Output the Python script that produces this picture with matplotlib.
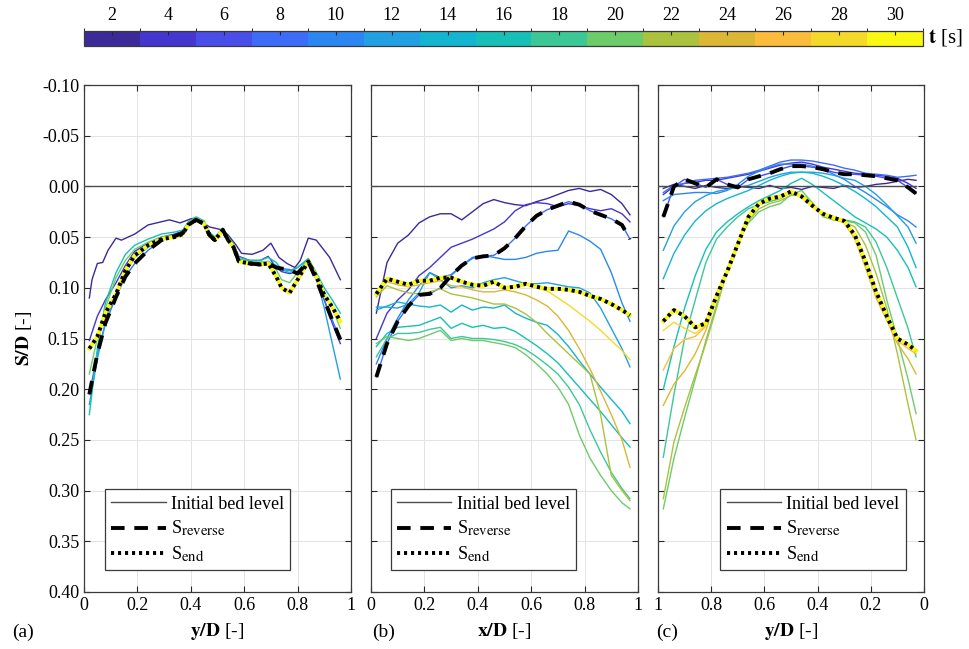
import numpy as np
import matplotlib
matplotlib.use('Agg')
import matplotlib.pyplot as plt
from matplotlib.colors import ListedColormap, BoundaryNorm
from matplotlib.cm import ScalarMappable
from matplotlib.ticker import FuncFormatter, MultipleLocator

try:
    import matplotlib._mathtext as _mt
    _mt.SHRINK_FACTOR = 0.82  # larger subscripts, closer to the original legend
except Exception:
    pass

plt.rcParams['font.family'] = 'serif'
plt.rcParams['font.serif'] = ['Liberation Serif', 'DejaVu Serif']
plt.rcParams['mathtext.fontset'] = 'stix'
plt.rcParams['font.size'] = 13

# discrete parula-like colour steps, one per 2 s
t_colors = ['#3b2a98', '#4536cf', '#4a4ee9', '#3d6df8', '#2b86f2', '#23a0e1', '#13b5d0', '#16c0b7',
            '#3cc896', '#6ecb6a', '#aac23d', '#dcb635', '#fbbc3c', '#f5d92a', '#f9f813']
t_bounds = np.arange(1, 32, 2)
t_ticks = np.arange(2, 31, 2)

# ---------------- panel (a): y/D ----------------
xa = [0.02, 0.05, 0.08, 0.12, 0.155, 0.19, 0.24, 0.29, 0.34, 0.37, 0.39, 0.42, 0.45, 0.47, 0.49, 0.52,
      0.54, 0.56, 0.58, 0.62, 0.66, 0.69, 0.72, 0.74, 0.77, 0.80, 0.84, 0.87, 0.90, 0.93, 0.96]
a_t2_x = [0.02, 0.03, 0.05, 0.07, 0.09, 0.12, 0.14, 0.19, 0.24, 0.32, 0.36, 0.40, 0.42, 0.47, 0.52, 0.54,
          0.57, 0.59, 0.63, 0.67, 0.70, 0.73, 0.76, 0.79, 0.81, 0.84, 0.87, 0.92, 0.96]
a_t2 = [0.110, 0.092, 0.076, 0.075, 0.063, 0.051, 0.053, 0.047, 0.038, 0.033, 0.036, 0.032, 0.031, 0.040,
        0.043, 0.048, 0.058, 0.066, 0.067, 0.063, 0.056, 0.070, 0.076, 0.080, 0.073, 0.051, 0.053, 0.070, 0.092]
a_t4 = [0.152, 0.128, 0.112, 0.095, 0.078, 0.064, 0.056, 0.050, 0.047, 0.044, 0.036, 0.032, 0.038, 0.050,
        0.052, 0.043, 0.050, 0.058, 0.069, 0.073, 0.073, 0.069, 0.080, 0.084, 0.086, 0.084, 0.073, 0.088, 0.112,
        0.135, 0.155]
a_t12 = [0.215, 0.170, 0.135, 0.105, 0.085, 0.070, 0.060, 0.053, 0.050, 0.046, 0.037, 0.032, 0.036, 0.047,
         0.052, 0.042, 0.052, 0.058, 0.072, 0.074, 0.075, 0.074, 0.078, 0.082, 0.083, 0.080, 0.072, 0.090,
         0.120, 0.155, 0.190]
a_t16 = [0.225, 0.160, 0.115, 0.085, 0.067, 0.058, 0.052, 0.047, 0.045, 0.043, 0.035, 0.030, 0.034, 0.045,
         0.050, 0.041, 0.050, 0.057, 0.070, 0.073, 0.073, 0.070, 0.075, 0.082, 0.085, 0.080, 0.071, 0.085,
         0.100, 0.112, 0.125]
a_t20 = [0.185, 0.150, 0.120, 0.090, 0.073, 0.062, 0.055, 0.050, 0.048, 0.045, 0.036, 0.031, 0.035, 0.046,
         0.051, 0.042, 0.051, 0.058, 0.072, 0.075, 0.075, 0.074, 0.082, 0.092, 0.095, 0.085, 0.072, 0.087,
         0.104, 0.120, 0.140]
a_rev = [0.205, 0.165, 0.135, 0.109, 0.089, 0.076, 0.063, 0.053, 0.049, 0.046, 0.038, 0.033, 0.037, 0.048,
         0.053, 0.043, 0.053, 0.060, 0.074, 0.076, 0.077, 0.076, 0.080, 0.081, 0.082, 0.086, 0.074, 0.092,
         0.112, 0.132, 0.151]
a_end = [0.160, 0.148, 0.125, 0.106, 0.083, 0.068, 0.058, 0.052, 0.050, 0.047, 0.038, 0.033, 0.037, 0.048,
         0.053, 0.043, 0.053, 0.060, 0.074, 0.076, 0.077, 0.076, 0.089, 0.100, 0.105, 0.092, 0.074, 0.089,
         0.107, 0.119, 0.133]

# ---------------- panel (b): x/D ----------------
xb = [0.02, 0.06, 0.10, 0.14, 0.18, 0.22, 0.26, 0.30, 0.34, 0.38, 0.42, 0.46, 0.50, 0.54, 0.58, 0.62,
      0.66, 0.70, 0.74, 0.78, 0.82, 0.86, 0.90, 0.94, 0.97]
b_t2 = [0.125, 0.075, 0.056, 0.048, 0.036, 0.030, 0.027, 0.027, 0.033, 0.025, 0.017, 0.013, 0.016, 0.018,
        0.019, 0.015, 0.012, 0.008, 0.004, 0.002, 0.005, 0.003, 0.008, 0.017, 0.028]
b_t4 = [0.150, 0.125, 0.112, 0.102, 0.088, 0.080, 0.070, 0.060, 0.056, 0.052, 0.047, 0.042, 0.035, 0.024,
        0.018, 0.016, 0.017, 0.020, 0.017, 0.019, 0.022, 0.024, 0.022, 0.027, 0.035]
b_t10 = [0.175, 0.150, 0.130, 0.112, 0.098, 0.085, 0.090, 0.087, 0.078, 0.070, 0.068, 0.070, 0.072, 0.072,
         0.070, 0.066, 0.064, 0.063, 0.044, 0.048, 0.054, 0.062, 0.085, 0.115, 0.133]
b_t12 = [0.119, 0.119, 0.120, 0.116, 0.105, 0.085, 0.092, 0.100, 0.098, 0.100, 0.095, 0.092, 0.090, 0.093,
         0.096, 0.096, 0.095, 0.097, 0.099, 0.100, 0.105, 0.120, 0.140, 0.160, 0.178]
b_t14 = [0.122, 0.118, 0.114, 0.116, 0.118, 0.119, 0.117, 0.124, 0.117, 0.122, 0.119, 0.120, 0.117, 0.125,
         0.130, 0.134, 0.137, 0.146, 0.158, 0.172, 0.185, 0.198, 0.210, 0.222, 0.234]
b_t16 = [0.158, 0.145, 0.139, 0.138, 0.137, 0.133, 0.129, 0.140, 0.135, 0.139, 0.137, 0.140, 0.139, 0.143,
         0.150, 0.157, 0.165, 0.174, 0.186, 0.198, 0.210, 0.222, 0.235, 0.248, 0.257]
b_t18 = [0.168, 0.150, 0.145, 0.145, 0.144, 0.141, 0.139, 0.150, 0.148, 0.150, 0.150, 0.151, 0.153, 0.156,
         0.161, 0.168, 0.176, 0.185, 0.198, 0.215, 0.240, 0.262, 0.282, 0.298, 0.308]
b_t20 = [0.155, 0.148, 0.150, 0.152, 0.150, 0.146, 0.142, 0.152, 0.150, 0.152, 0.152, 0.154, 0.156, 0.159,
         0.166, 0.175, 0.185, 0.198, 0.215, 0.245, 0.268, 0.285, 0.300, 0.312, 0.318]
b_t22 = [0.109, 0.098, 0.102, 0.105, 0.106, 0.104, 0.101, 0.106, 0.108, 0.110, 0.113, 0.116, 0.116, 0.120,
         0.126, 0.134, 0.145, 0.155, 0.165, 0.175, 0.185, 0.225, 0.285, 0.300, 0.310]
b_t24 = [0.107, 0.094, 0.097, 0.099, 0.097, 0.095, 0.093, 0.098, 0.099, 0.102, 0.104, 0.104, 0.102, 0.104,
         0.107, 0.112, 0.118, 0.128, 0.142, 0.160, 0.180, 0.202, 0.225, 0.250, 0.277]
b_t28 = [0.106, 0.092, 0.095, 0.098, 0.094, 0.094, 0.091, 0.091, 0.095, 0.098, 0.099, 0.095, 0.101, 0.100,
         0.097, 0.100, 0.103, 0.110, 0.117, 0.125, 0.133, 0.142, 0.152, 0.162, 0.171]
b_rev = [0.188, 0.155, 0.133, 0.118, 0.107, 0.106, 0.100, 0.088, 0.078, 0.071, 0.069, 0.068, 0.061, 0.051,
         0.039, 0.029, 0.023, 0.019, 0.015, 0.018, 0.024, 0.028, 0.032, 0.038, 0.052]
b_end = [0.106, 0.091, 0.094, 0.097, 0.093, 0.093, 0.090, 0.090, 0.094, 0.097, 0.098, 0.094, 0.100, 0.099,
         0.096, 0.099, 0.101, 0.101, 0.102, 0.104, 0.108, 0.111, 0.116, 0.122, 0.127]

# ---------------- panel (c): y/D (reversed) ----------------
xc = [0.98, 0.94, 0.90, 0.86, 0.82, 0.78, 0.74, 0.70, 0.66, 0.62, 0.58, 0.54, 0.50, 0.46, 0.42, 0.38,
      0.34, 0.30, 0.26, 0.22, 0.18, 0.14, 0.10, 0.06, 0.03]
c_t2 = [0.002, -0.002, 0.000, 0.002, -0.001, 0.001, 0.002, 0.000, 0.001, 0.002, -0.001, 0.002, 0.001,
        0.003, 0.000, 0.001, 0.002, -0.001, 0.001, 0.000, -0.002, -0.003, -0.005, -0.007, -0.006]
c_t4 = [0.008, 0.000, -0.003, -0.004, -0.006, -0.006, -0.008, -0.010, -0.012, -0.015, -0.018, -0.021,
        -0.023, -0.024, -0.022, -0.019, -0.017, -0.015, -0.013, -0.012, -0.011, -0.010, -0.008, -0.003, 0.002]
c_t8 = [0.006, -0.001, -0.003, -0.006, -0.007, -0.008, -0.009, -0.011, -0.013, -0.016, -0.020, -0.024,
        -0.026, -0.026, -0.025, -0.023, -0.021, -0.018, -0.016, -0.013, -0.012, -0.011, -0.009, -0.010, -0.011]
c_t10 = [0.014, 0.008, 0.007, 0.006, 0.006, 0.007, 0.004, -0.002, -0.010, -0.015, -0.019, -0.022, -0.022,
         -0.022, -0.020, -0.017, -0.012, -0.007, 0.000, 0.006, 0.013, 0.020, 0.028, 0.034, 0.040]
c_t12 = [0.063, 0.039, 0.025, 0.015, 0.009, 0.005, 0.003, 0.001, -0.001, -0.005, -0.009, -0.012, -0.014,
         -0.014, -0.014, -0.013, -0.011, -0.008, -0.006, 0.000, 0.008, 0.018, 0.029, 0.040, 0.056]
c_t14 = [0.091, 0.066, 0.048, 0.034, 0.024, 0.017, 0.012, 0.008, 0.004, -0.001, -0.006, -0.010, -0.013,
         -0.014, -0.013, -0.010, -0.006, -0.001, 0.005, 0.012, 0.020, 0.030, 0.040, 0.060, 0.080]
c_t16 = [0.200, 0.158, 0.120, 0.088, 0.062, 0.045, 0.035, 0.027, 0.020, 0.014, 0.009, 0.004, -0.003,
         -0.008, -0.002, 0.006, 0.014, 0.022, 0.030, 0.036, 0.042, 0.050, 0.063, 0.080, 0.099]
c_t18 = [0.267, 0.205, 0.150, 0.112, 0.075, 0.052, 0.040, 0.030, 0.022, 0.018, 0.015, 0.012, 0.006, 0.010,
         0.020, 0.026, 0.030, 0.033, 0.035, 0.040, 0.055, 0.080, 0.110, 0.140, 0.168]
c_t20 = [0.318, 0.268, 0.228, 0.190, 0.152, 0.117, 0.082, 0.055, 0.036, 0.025, 0.020, 0.017, 0.008, 0.004,
         0.016, 0.030, 0.033, 0.034, 0.036, 0.045, 0.068, 0.112, 0.150, 0.190, 0.224]
c_t22 = [0.308, 0.252, 0.218, 0.186, 0.155, 0.120, 0.083, 0.055, 0.034, 0.022, 0.017, 0.014, 0.009, 0.008,
         0.016, 0.028, 0.033, 0.035, 0.040, 0.058, 0.086, 0.120, 0.165, 0.215, 0.250]
c_t24 = [0.216, 0.195, 0.182, 0.165, 0.142, 0.110, 0.085, 0.058, 0.031, 0.018, 0.013, 0.011, 0.006, 0.011,
         0.020, 0.028, 0.032, 0.036, 0.052, 0.080, 0.110, 0.132, 0.155, 0.170, 0.185]
c_t26 = [0.181, 0.160, 0.151, 0.148, 0.138, 0.109, 0.085, 0.057, 0.030, 0.017, 0.012, 0.010, 0.005, 0.010,
         0.019, 0.027, 0.031, 0.035, 0.050, 0.076, 0.106, 0.130, 0.152, 0.160, 0.165]
c_t28 = [0.142, 0.134, 0.140, 0.145, 0.137, 0.108, 0.084, 0.057, 0.030, 0.017, 0.012, 0.010, 0.005, 0.010,
         0.019, 0.027, 0.031, 0.034, 0.049, 0.075, 0.105, 0.129, 0.150, 0.157, 0.163]
c_rev = [0.030, 0.000, -0.007, -0.003, 0.001, -0.007, -0.002, 0.001, -0.007, -0.010, -0.013, -0.017, -0.020,
         -0.020, -0.019, -0.017, -0.014, -0.012, -0.012, -0.011, -0.010, -0.008, -0.006, 0.001, 0.007]
c_end = [0.133, 0.122, 0.128, 0.139, 0.135, 0.108, 0.084, 0.057, 0.030, 0.017, 0.012, 0.010, 0.005, 0.010,
         0.019, 0.027, 0.031, 0.034, 0.048, 0.074, 0.104, 0.128, 0.150, 0.156, 0.162]

cmap = ListedColormap(t_colors)
norm = BoundaryNorm(t_bounds, cmap.N)

W, H = 969, 649
fig = plt.figure(figsize=(W / 100, H / 100), dpi=100)

panels = [
    dict(rect=[84, 85, 267, 507], x_init=(0.0, 0.97), end_t=30, xlabel=r'$\mathbf{y/D}$ [-]',
         curves=[(2, a_t2_x, a_t2), (4, xa, a_t4), (8, xa, a_rev), (12, xa, a_t12), (16, xa, a_t16),
                 (20, xa, a_t20), (30, xa, a_end)],
         rev=(xa, a_rev), end=(xa, a_end), leg_x=0.045, tag='(a)', tag_x=12),
    dict(rect=[371, 85, 267, 507], x_init=(0.0, 0.97), end_t=30, xlabel=r'$\mathbf{x/D}$ [-]',
         curves=[(2, xb, b_t2), (4, xb, b_t4), (8, xb, b_rev), (10, xb, b_t10), (12, xb, b_t12),
                 (14, xb, b_t14), (16, xb, b_t16), (18, xb, b_t18), (20, xb, b_t20), (22, xb, b_t22),
                 (24, xb, b_t24), (28, xb, b_t28), (30, xb, b_end)],
         rev=(xb, b_rev), end=(xb, b_end), leg_x=0.041, tag='(b)', tag_x=372),
    dict(rect=[658, 85, 266, 507], x_init=(0.03, 1.0), end_t=30, xlabel=r'$\mathbf{y/D}$ [-]',
         curves=[(2, xc, c_t2), (4, xc, c_t4), (6, xc, c_rev), (8, xc, c_t8), (10, xc, c_t10),
                 (12, xc, c_t12), (14, xc, c_t14), (16, xc, c_t16), (18, xc, c_t18), (20, xc, c_t20),
                 (22, xc, c_t22), (24, xc, c_t24), (26, xc, c_t26), (28, xc, c_t28), (30, xc, c_end)],
         rev=(xc, c_rev), end=(xc, c_end), leg_x=0.20, tag='(c)', tag_x=656),
]

axes = []
for i, p in enumerate(panels):
    l, t, w, h = p['rect']
    ax = fig.add_axes([l / W, 1 - (t + h) / H, w / W, h / H])
    axes.append(ax)
    ax.set_ylim(0.40, -0.10)
    if i == 2:
        ax.set_xlim(1, 0)
    else:
        ax.set_xlim(0, 1)
    ax.xaxis.set_major_locator(MultipleLocator(0.2))
    ax.yaxis.set_major_locator(MultipleLocator(0.05))
    ax.xaxis.set_major_formatter(FuncFormatter(lambda v, _: f'{v:g}'))
    ax.yaxis.set_major_formatter(FuncFormatter(lambda v, _: f'{v:.2f}' if abs(v) > 1e-9 else '0.00'))
    ax.grid(True, color='#e3e3e3', linewidth=0.7)
    ax.set_axisbelow(True)
    ax.tick_params(direction='in', top=True, right=True, length=4, width=0.8, colors='#262626',
                   labelcolor='black', labelsize=13)
    for s in ax.spines.values():
        s.set_color('#3a3a3a')
        s.set_linewidth(0.9)
    if i > 0:
        ax.tick_params(labelleft=False)

    for tv, xs, ys in p['curves']:
        ax.plot(xs, ys, color=cmap(norm(tv)), lw=1.0, zorder=2)
    ax.plot(p['end'][0], p['end'][1], color=cmap(norm(p['end_t'])), lw=2.8, zorder=3)

    h_init, = ax.plot(p['x_init'], [0, 0], color='#4d4d4d', lw=1.0, zorder=4, label='Initial bed level')
    h_rev, = ax.plot(p['rev'][0], p['rev'][1], color='black', lw=2.8, ls=(0, (3.5, 2.5)), zorder=5,
                     label=r'S$_{\mathrm{reverse}}$')
    h_end, = ax.plot(p['end'][0], p['end'][1], color='black', lw=2.8, ls=(0, (0.8, 1.0)), zorder=6,
                     label=r'S$_{\mathrm{end}}$')

    leg = ax.legend(handles=[h_init, h_rev, h_end], loc='lower left', bbox_to_anchor=(p['leg_x'], 0.025),
                    fontsize=13, handlelength=3.0, handletextpad=0.3, labelspacing=0.35, borderpad=0.35,
                    fancybox=False, framealpha=1, edgecolor='#3a3a3a')
    leg.get_frame().set_linewidth(0.9)
    leg.set_zorder(10)

    ax.set_xlabel(p['xlabel'], fontsize=14, labelpad=5)
    fig.text(p['tag_x'] / W, 1 - 632 / H, p['tag'], fontsize=14, va='center', ha='left')

axes[0].set_ylabel(r'$\mathbf{S/D}$ [-]', fontsize=14, labelpad=6)

# colour bar on top
cax = fig.add_axes([84 / W, 1 - 46 / H, 839 / W, 15 / H])
cb = fig.colorbar(ScalarMappable(norm=norm, cmap=cmap), cax=cax, orientation='horizontal', ticks=t_ticks)
cax.xaxis.set_ticks_position('top')
cax.xaxis.set_label_position('top')
cax.tick_params(direction='in', length=3, width=0.8, labelsize=13, pad=5, colors='#262626', labelcolor='black')
cb.outline.set_edgecolor('#3a3a3a')
cb.outline.set_linewidth(0.9)
fig.text(945 / W, 1 - 38 / H, r'$\mathbf{t}$ [s]', fontsize=15, ha='center', va='center')

fig.savefig('out.png', dpi=100)
